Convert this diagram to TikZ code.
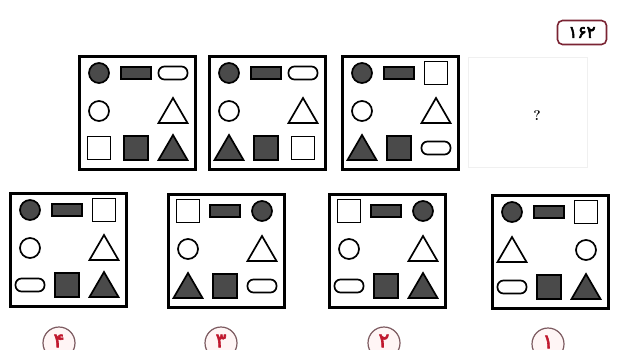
\documentclass[tikz,border=0pt]{standalone}
\usepackage{fontspec}
\newfontfamily\fa[Script=Arabic,FakeBold=3]{DejaVu Sans}
\definecolor{shadeg}{HTML}{4A4A4A}
\definecolor{maroon}{HTML}{7A2433}
\definecolor{digred}{HTML}{C0182E}
\tikzset{
  outl/.style={draw=black, line width=1.7pt, fill=white},
  filld/.style={draw=black, line width=1.7pt, fill=shadeg},
  frame/.style={draw=black, line width=3pt},
  pics/fcirc/.style={code={\draw[filld] (0,0) circle (10pt);}},
  pics/ocirc/.style={code={\draw[outl] (0,0) circle (10pt);}},
  pics/frect/.style={code={\draw[filld] (-15pt,-6pt) rectangle (15pt,6pt);}},
  pics/pill/.style={code={\draw[outl, rounded corners=6pt] (-14.5pt,-6.5pt) rectangle (14.5pt,6.5pt);}},
  pics/osq/.style={code={\draw[outl] (-11.5pt,-11.5pt) rectangle (11.5pt,11.5pt);}},
  pics/fsq/.style={code={\draw[filld] (-12pt,-12pt) rectangle (12pt,12pt);}},
  pics/otri/.style={code={\draw[outl, line join=miter] (-14.5pt,-12pt) -- (14.5pt,-12pt) -- (0pt,13pt) -- cycle;}},
  pics/ftri/.style={code={\draw[filld, line join=miter] (-14.5pt,-12pt) -- (14.5pt,-12pt) -- (0pt,13pt) -- cycle;}},
  optcirc/.style={circle, draw=gray!60!maroon, line width=1.2pt, fill=red!4, minimum size=32pt, inner sep=0pt},
  optlab/.style={text=digred, font=\fa\fontsize{20}{20}\selectfont, inner sep=0pt},
}
\newcommand\cardshapes[8]{%
  \draw[frame] (0,0) rectangle (116,113);
  \pic at (20,17) {#1}; \pic at (57,17) {#2}; \pic at (94,17) {#3};
  \pic at (20,55) {#4}; \pic at (94,55) {#5};
  \pic at (20,92) {#6}; \pic at (57,92) {#7}; \pic at (94,92) {#8};
}
\begin{document}
\begin{tikzpicture}[x=1pt,y=-1pt]
\useasboundingbox (0,0) rectangle (620,349);
\clip (0,0) rectangle (620,349);
\fill[white] (0,0) rectangle (620,349);
% top row
\begin{scope}[shift={(79,56)}]
  \cardshapes{fcirc}{frect}{pill}{ocirc}{otri}{osq}{fsq}{ftri}
\end{scope}
\begin{scope}[shift={(209,56)}]
  \cardshapes{fcirc}{frect}{pill}{ocirc}{otri}{ftri}{fsq}{osq}
\end{scope}
\begin{scope}[shift={(342,56)}]
  \cardshapes{fcirc}{frect}{osq}{ocirc}{otri}{ftri}{fsq}{pill}
\end{scope}
% faint empty card with question mark
\draw[gray!12, line width=1pt] (468,57) rectangle (587,167);
\node[font=\bfseries\fontsize{14}{14}\selectfont] (q) at (537,116) {?};
% problem number
\node[draw=maroon, line width=1.6pt, rounded corners=5pt, minimum width=49pt, minimum height=24pt,
      font=\fa\fontsize{17}{17}\selectfont] (num) at (582,32.5) {۱۶۲};
% options
\begin{scope}[shift={(10,193)}]
  \cardshapes{fcirc}{frect}{osq}{ocirc}{otri}{pill}{fsq}{ftri}
\end{scope}
\begin{scope}[shift={(168,194)}]
  \cardshapes{osq}{frect}{fcirc}{ocirc}{otri}{ftri}{fsq}{pill}
\end{scope}
\begin{scope}[shift={(329,194)}]
  \cardshapes{osq}{frect}{fcirc}{ocirc}{otri}{pill}{fsq}{ftri}
\end{scope}
\begin{scope}[shift={(492,195)}]
  \cardshapes{fcirc}{frect}{osq}{otri}{ocirc}{pill}{fsq}{ftri}
\end{scope}
% option labels
\node[optcirc] (c4) at (59,343) {};
\node[optlab] (l4) at (59,341) {۴};
\node[optcirc] (c3) at (221,343) {};
\node[optlab] (l3) at (221,341) {۳};
\node[optcirc] (c2) at (384,343) {};
\node[optlab] (l2) at (384,341) {۲};
\node[optcirc] (c1) at (548,344) {};
\node[optlab] (l1) at (548,342) {۱};
\end{tikzpicture}
\end{document}
